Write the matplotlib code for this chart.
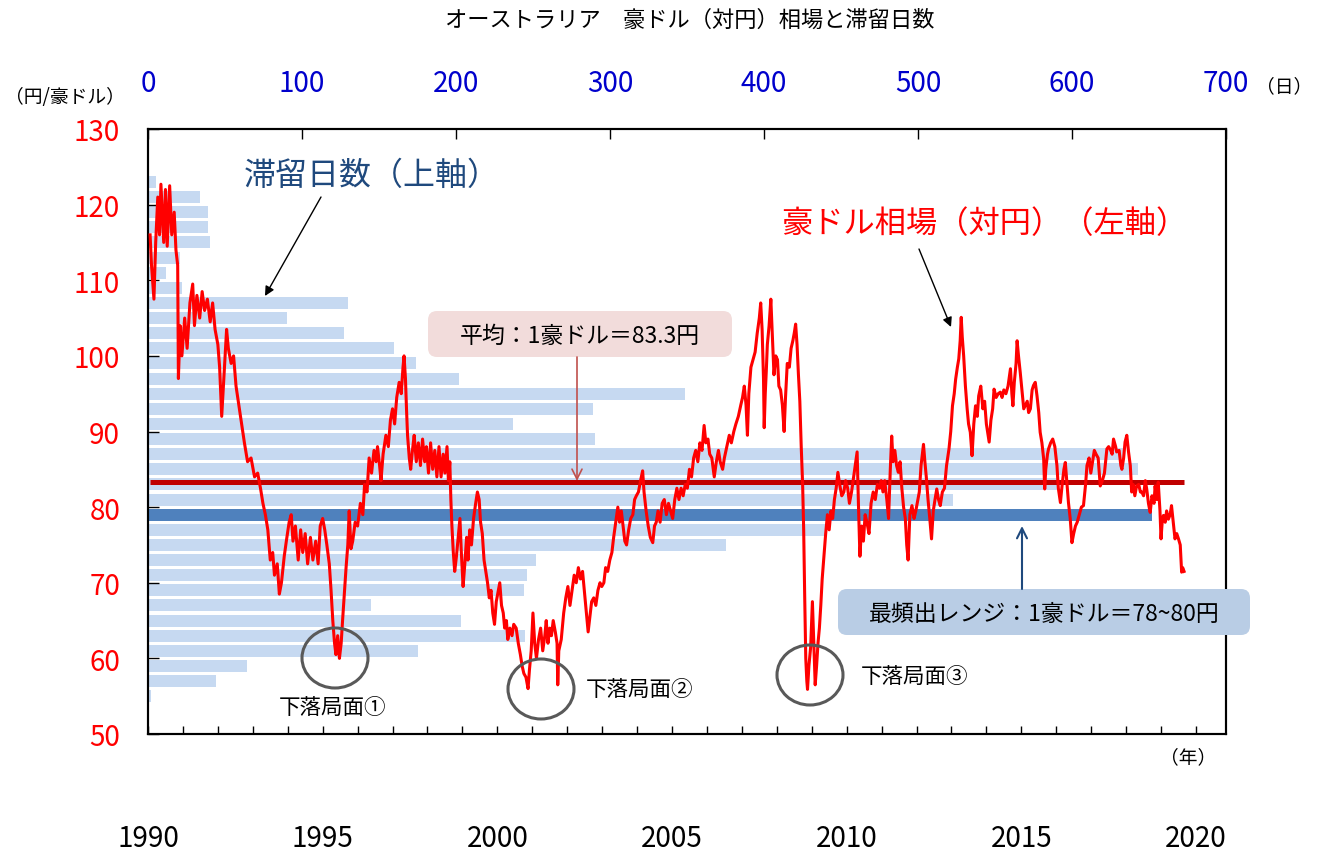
import numpy as np
import matplotlib
matplotlib.use("Agg")
import matplotlib.pyplot as plt
from matplotlib import patches

plt.rcParams['font.family'] = ['Noto Sans CJK JP', 'DejaVu Sans']

#------------------------------------------------------------------------------
# data
#------------------------------------------------------------------------------
# residence days per 2-yen band (band centre, yen)
band_mid = [55, 57, 59, 61, 63, 65, 67, 69, 71, 73, 75, 77, 79, 81, 83, 85, 87,
            89, 91, 93, 95, 97, 99, 101, 103, 105, 107, 109, 111, 113, 115, 117,
            119, 121, 123]
band_days = [2, 44, 64, 175, 245, 203, 145, 244, 246, 252, 375, 440, 652, 523,
             590, 643, 634, 290, 237, 289, 349, 202, 174, 160, 127, 90, 130, 22,
             12, 21, 40, 39, 39, 34, 5]
mode_band = 79        # 78~80 yen
mean_rate = 83.3

# AUD/JPY (decimal year, yen)
d90 = [1990.06, 1990.10, 1990.17, 1990.22, 1990.28, 1990.33, 1990.37, 1990.45, 1990.50, 1990.55, 1990.62, 1990.68, 1990.75, 1990.80, 1990.85, 1990.87, 1990.92, 1990.97]
v90 = [116, 112, 107.5, 115, 121, 116, 122.7, 115, 122, 114.5, 122.5, 116, 119, 114, 112, 97, 104, 100]
d91 = [1991.05, 1991.12, 1991.20, 1991.28, 1991.33, 1991.40, 1991.48, 1991.55, 1991.62, 1991.70, 1991.78, 1991.85, 1991.92]
v91 = [105, 101, 107, 109.5, 104, 108, 105, 108.5, 106, 107.5, 104.5, 107, 103.5]
d92 = [1992.00, 1992.05, 1992.11, 1992.17, 1992.25, 1992.30, 1992.38, 1992.45, 1992.52, 1992.60, 1992.68, 1992.76, 1992.85, 1992.95]
v92 = [101.5, 98.5, 92, 97, 103.5, 101, 99, 100, 96, 93.5, 91, 88.5, 86, 86.5]
d93 = [1993.05, 1993.14, 1993.22, 1993.29, 1993.36, 1993.43, 1993.50, 1993.57, 1993.62, 1993.70, 1993.76, 1993.82, 1993.90, 1993.96]
v93 = [84, 84.5, 82.5, 80.5, 79, 77, 73, 74, 71, 72.5, 68.5, 70, 73.5, 75.5]
d94 = [1994.04, 1994.10, 1994.15, 1994.22, 1994.30, 1994.37, 1994.43, 1994.50, 1994.57, 1994.65, 1994.72, 1994.80, 1994.87, 1994.93]
v94 = [78, 79, 75.5, 77.5, 73, 77, 74, 76.5, 72.5, 76, 73, 75.5, 72.5, 77.5]
d95 = [1995.00, 1995.06, 1995.12, 1995.19, 1995.24, 1995.29, 1995.34, 1995.38, 1995.43, 1995.48, 1995.53, 1995.57, 1995.62, 1995.67, 1995.72, 1995.76, 1995.81, 1995.86, 1995.93]
v95 = [78.5, 77, 75, 72.5, 69, 65, 62, 60.5, 63, 60, 62, 65, 68.5, 72, 75, 79.5, 74.5, 75.5, 78]
d96 = [1996.00, 1996.08, 1996.15, 1996.20, 1996.27, 1996.33, 1996.40, 1996.47, 1996.53, 1996.57, 1996.63, 1996.67, 1996.73, 1996.81, 1996.88, 1996.94]
v96 = [77.5, 80.5, 79, 83, 82, 86.5, 84.5, 87.5, 86, 88, 85.5, 83.5, 87, 89.5, 88, 91.5]
d97 = [1997.00, 1997.06, 1997.12, 1997.19, 1997.25, 1997.30, 1997.33, 1997.37, 1997.40, 1997.43, 1997.48, 1997.52, 1997.57, 1997.62, 1997.68, 1997.74, 1997.80, 1997.86, 1997.92, 1997.97]
v97 = [93, 91, 94.5, 96.5, 95, 98.5, 100, 97, 93, 89.5, 86.5, 85, 87.5, 89.5, 86, 88.5, 85.5, 89, 86, 88]
d98 = [1998.03, 1998.09, 1998.15, 1998.21, 1998.27, 1998.33, 1998.39, 1998.45, 1998.50, 1998.56, 1998.60, 1998.64, 1998.67, 1998.70, 1998.74, 1998.78, 1998.83, 1998.88, 1998.93, 1998.97]
v98 = [84.5, 88.5, 85, 87.5, 84, 88, 84, 87, 84.5, 88, 83.5, 86, 81, 77.5, 74, 71.5, 73.5, 76, 78.5, 74]
d99 = [1999.02, 1999.07, 1999.12, 1999.16, 1999.21, 1999.26, 1999.32, 1999.38, 1999.43, 1999.48, 1999.52, 1999.57, 1999.62, 1999.67, 1999.72, 1999.77, 1999.82, 1999.87, 1999.92, 1999.97]
v99 = [69.5, 72.5, 76, 73, 77, 75, 78.5, 80.5, 82, 81, 78, 76.5, 73, 71.5, 70, 68, 69, 66, 64.5, 67.5]
d00 = [2000.03, 2000.07, 2000.12, 2000.17, 2000.21, 2000.26, 2000.30, 2000.36, 2000.42, 2000.47, 2000.54, 2000.60, 2000.66, 2000.71, 2000.76, 2000.82, 2000.88, 2000.92, 2000.97]
v00 = [69, 70, 67, 66, 64, 65, 62.5, 64, 63, 64.5, 64, 62, 60.5, 59, 58, 57.5, 56, 58.5, 61]
d01 = [2001.02, 2001.07, 2001.12, 2001.18, 2001.24, 2001.30, 2001.36, 2001.40, 2001.45, 2001.50, 2001.55, 2001.60, 2001.66, 2001.71, 2001.73, 2001.76, 2001.83, 2001.90, 2001.96]
v01 = [66, 62, 60, 62.5, 64, 61, 63, 65, 62, 64, 63, 65, 63.5, 62, 56.5, 61, 62.5, 66, 68]
d02 = [2002.02, 2002.08, 2002.14, 2002.20, 2002.26, 2002.32, 2002.38, 2002.44, 2002.50, 2002.55, 2002.60, 2002.65, 2002.70, 2002.76, 2002.82, 2002.88, 2002.94, 2002.99]
v02 = [69.5, 67, 69, 71, 70, 72, 70.5, 71.5, 68.5, 66, 63.5, 65.5, 67.5, 68, 67, 69, 70, 69.5]
d03 = [2003.05, 2003.10, 2003.16, 2003.22, 2003.28, 2003.33, 2003.39, 2003.45, 2003.50, 2003.55, 2003.60, 2003.65, 2003.70, 2003.76, 2003.82, 2003.88, 2003.93, 2003.98]
v03 = [70, 72, 71.5, 73, 74, 76, 78, 80, 78, 79.5, 77.5, 75.5, 75, 77, 78.5, 79, 81, 81.5]
d04 = [2004.04, 2004.10, 2004.16, 2004.20, 2004.26, 2004.32, 2004.38, 2004.45, 2004.50, 2004.55, 2004.60, 2004.66, 2004.72, 2004.78, 2004.84, 2004.90, 2004.96]
v04 = [82, 83.5, 84.8, 82, 79.5, 77.5, 76, 75.3, 77.5, 78, 79.5, 78, 80.5, 81, 79, 80.5, 79.5]
d05 = [2005.02, 2005.08, 2005.14, 2005.20, 2005.26, 2005.32, 2005.38, 2005.44, 2005.50, 2005.56, 2005.62, 2005.68, 2005.74, 2005.80, 2005.86, 2005.92, 2005.97]
v05 = [78.5, 81, 82.5, 81, 82.5, 81.5, 83, 82.5, 85, 84, 86.5, 87.5, 86, 88.5, 87.5, 90.8, 88.5]
d06 = [2006.03, 2006.08, 2006.14, 2006.21, 2006.27, 2006.33, 2006.38, 2006.45, 2006.50, 2006.57, 2006.64, 2006.70, 2006.77, 2006.83, 2006.90, 2006.97]
v06 = [89, 87, 86.5, 84, 86, 87.5, 86, 85, 86.5, 88, 89.5, 88.5, 90, 91, 92, 93.5]
d07 = [2007.02, 2007.07, 2007.12, 2007.16, 2007.20, 2007.26, 2007.32, 2007.38, 2007.44, 2007.50, 2007.54, 2007.58, 2007.62, 2007.64, 2007.67, 2007.70, 2007.73, 2007.78, 2007.83, 2007.87, 2007.92, 2007.97]
v07 = [94.5, 96, 93.5, 89.5, 95, 98.5, 99.5, 100.5, 103, 105, 107, 103.5, 97, 90.5, 95, 98, 101.5, 104, 107.5, 103, 97.5, 100]
d08 = [2008.02, 2008.06, 2008.11, 2008.16, 2008.21, 2008.25, 2008.30, 2008.36, 2008.41, 2008.46, 2008.50, 2008.54, 2008.58, 2008.62, 2008.66, 2008.70, 2008.74, 2008.77, 2008.80, 2008.83, 2008.86, 2008.88, 2008.92, 2008.97]
v08 = [99.5, 96, 95.5, 93.5, 90, 94.5, 99, 98.5, 101, 102, 103, 104.2, 101.5, 97.5, 94, 88, 83, 77, 68, 60, 57, 55.9, 59, 61.5]
d09 = [2009.02, 2009.06, 2009.10, 2009.14, 2009.18, 2009.22, 2009.26, 2009.30, 2009.35, 2009.40, 2009.45, 2009.50, 2009.55, 2009.60, 2009.65, 2009.70, 2009.75, 2009.80, 2009.86, 2009.92, 2009.97]
v09 = [67.5, 62, 56.5, 59, 62, 64, 67, 70.5, 73.5, 76.5, 79, 77, 79.5, 78.5, 81, 82.5, 84.6, 83, 81.5, 82, 83.5]
d10 = [2010.03, 2010.08, 2010.14, 2010.20, 2010.26, 2010.30, 2010.34, 2010.38, 2010.43, 2010.48, 2010.53, 2010.58, 2010.64, 2010.70, 2010.76, 2010.82, 2010.88, 2010.94, 2010.99]
v10 = [82.5, 80.5, 82, 84, 86, 87.3, 80, 73.5, 77.5, 75.5, 79, 78, 76.5, 80.5, 82, 81, 83, 82.5, 83.5]
d11 = [2011.04, 2011.09, 2011.15, 2011.20, 2011.25, 2011.29, 2011.33, 2011.38, 2011.43, 2011.48, 2011.53, 2011.58, 2011.63, 2011.68, 2011.72, 2011.76, 2011.81, 2011.87, 2011.93, 2011.98]
v11 = [82, 83.5, 81, 78.5, 85, 89.4, 86, 87.5, 85.5, 84.6, 86, 82.5, 80, 78.5, 75, 73, 79, 80.2, 78.5, 79.5]
d12 = [2012.02, 2012.08, 2012.13, 2012.20, 2012.24, 2012.28, 2012.33, 2012.38, 2012.43, 2012.48, 2012.53, 2012.58, 2012.63, 2012.68, 2012.74, 2012.80, 2012.86, 2012.93, 2012.98]
v12 = [80.5, 82, 85.5, 88.3, 86, 84, 81, 78.5, 75.8, 79.5, 81, 82.4, 81, 80.2, 82, 82.5, 85.5, 87.7, 90]
d13 = [2013.03, 2013.08, 2013.12, 2013.17, 2013.21, 2013.25, 2013.28, 2013.31, 2013.35, 2013.40, 2013.45, 2013.49, 2013.54, 2013.59, 2013.64, 2013.69, 2013.74, 2013.78, 2013.84, 2013.90, 2013.95]
v13 = [93.4, 95, 96.9, 98.5, 99.6, 102, 105.1, 102.5, 100, 96, 93, 91, 89.9, 86.8, 91, 93.4, 92, 94.7, 96, 93, 94]
d14 = [2014.00, 2014.05, 2014.08, 2014.13, 2014.18, 2014.22, 2014.28, 2014.34, 2014.40, 2014.45, 2014.50, 2014.56, 2014.62, 2014.69, 2014.73, 2014.76, 2014.80, 2014.85, 2014.88, 2014.92, 2014.97]
v14 = [91, 89.5, 88.6, 91.5, 93, 95.6, 94.5, 95, 95.2, 94.5, 95.5, 95, 96, 98.3, 95, 93.4, 96.5, 99, 102, 100, 97.8]
d15 = [2015.03, 2015.07, 2015.12, 2015.17, 2015.21, 2015.26, 2015.31, 2015.35, 2015.40, 2015.45, 2015.50, 2015.54, 2015.59, 2015.64, 2015.67, 2015.70, 2015.75, 2015.78, 2015.84, 2015.90, 2015.96]
v15 = [95, 93, 93.5, 94, 92.5, 93, 95.5, 96.1, 96.5, 94.7, 92.5, 89.9, 88.5, 86.4, 82.4, 85, 87, 87.7, 88.5, 89, 88]
d16 = [2016.02, 2016.06, 2016.12, 2016.17, 2016.22, 2016.26, 2016.31, 2016.35, 2016.40, 2016.45, 2016.50, 2016.55, 2016.60, 2016.66, 2016.72, 2016.78, 2016.84, 2016.88, 2016.94, 2016.99]
v16 = [85.5, 82.5, 80.6, 83, 85, 85.9, 83, 80.6, 78.5, 75.3, 76.5, 77.5, 78, 79, 80, 80.2, 83, 85.5, 86.5, 84.5]
d17 = [2017.04, 2017.09, 2017.14, 2017.20, 2017.26, 2017.32, 2017.38, 2017.45, 2017.50, 2017.56, 2017.60, 2017.64, 2017.70, 2017.73, 2017.80, 2017.85, 2017.88, 2017.93, 2017.97]
v17 = [86, 87.5, 87, 86.5, 82.8, 83.5, 84.5, 87.7, 88, 87.5, 87, 89, 88, 87.3, 87.5, 85.5, 85, 86.5, 88.6]
d18 = [2018.02, 2018.07, 2018.12, 2018.16, 2018.20, 2018.25, 2018.30, 2018.36, 2018.41, 2018.45, 2018.50, 2018.55, 2018.59, 2018.64, 2018.69, 2018.74, 2018.80, 2018.83, 2018.88, 2018.92, 2018.97]
v18 = [89.5, 87.3, 85.5, 82, 83, 81.5, 82.8, 83, 82, 82, 81.5, 83.5, 82.4, 80.5, 79.3, 81.5, 80.5, 82.8, 81, 83.3, 79.5]
d19 = [2019.00, 2019.04, 2019.07, 2019.12, 2019.16, 2019.21, 2019.26, 2019.30, 2019.35, 2019.40, 2019.45, 2019.50, 2019.55, 2019.59, 2019.62, 2019.66]
v19 = [75.8, 78.5, 78.9, 78, 79.5, 78.4, 79, 80.2, 78, 75.8, 76.5, 75.8, 75, 71.4, 72, 71.5]

dates = np.array(d90 + d91 + d92 + d93 + d94 + d95 + d96 + d97 + d98 + d99 + d00 + d01 + d02 + d03 + d04
                 + d05 + d06 + d07 + d08 + d09 + d10 + d11 + d12 + d13 + d14 + d15 + d16 + d17 + d18 + d19)
rate = np.array(v90 + v91 + v92 + v93 + v94 + v95 + v96 + v97 + v98 + v99 + v00 + v01 + v02 + v03 + v04
                + v05 + v06 + v07 + v08 + v09 + v10 + v11 + v12 + v13 + v14 + v15 + v16 + v17 + v18 + v19)

year_ticks = list(range(1990, 2021))
year_labels = [str(y) if y % 5 == 0 else '' for y in year_ticks]
day_ticks = list(range(0, 701, 100))
yen_ticks = list(range(50, 131, 10))

#------------------------------------------------------------------------------
# figure
#------------------------------------------------------------------------------
W, H = 1318, 854
fig = plt.figure(figsize=(W / 100, H / 100), dpi=100)
fig.patch.set_facecolor('white')

ax = fig.add_axes([148 / W, 1 - 735 / H, (1226 - 148) / W, (735 - 130) / H])
ax2 = ax.twiny()   # year axis for the rate line

# bars: days spent in each band (top axis)
cols = ['#4F81BD' if b == mode_band else '#C6D9F1' for b in band_mid]
ax.barh(band_mid, band_days, height=1.6, color=cols, zorder=1)
ax.set_xlim(0, 700)
ax.set_ylim(50, 130)
ax.xaxis.tick_top()
ax.set_xticks(day_ticks)
ax.set_yticks(yen_ticks)
ax.tick_params(axis='x', direction='in', length=7, width=1, labelsize=20,
               labelcolor='#0000CC', pad=22)
ax.tick_params(axis='y', direction='in', length=8, width=1, labelsize=20,
               labelcolor='red', pad=20)

# line: AUD/JPY on the year axis (bottom)
ax2.plot(dates, rate, color='#FF0000', lw=2.2, zorder=3)
ax2.hlines(mean_rate, dates[0], dates[-1], color='#C00000', lw=3.6, zorder=2)
ax2.set_xlim(1990.06, 2020.86)
ax2.xaxis.tick_bottom()
ax2.set_xticks(year_ticks)
ax2.set_xticklabels(year_labels)
ax2.tick_params(axis='x', direction='in', length=6, width=1, labelsize=20, pad=64)

for a in (ax, ax2):
    for s in a.spines.values():
        s.set_linewidth(1.5)
        s.set_color('black')

#------------------------------------------------------------------------------
# annotations, in pixel space
#------------------------------------------------------------------------------
ov = fig.add_axes([0, 0, 1, 1])
ov.set_xlim(0, W)
ov.set_ylim(H, 0)
ov.axis('off')
ov.patch.set_visible(False)

ov.text(690, 20, 'オーストラリア　豪ドル（対円）相場と滞留日数', fontsize=16, ha='center', va='center')
ov.text(65, 97, '（円/豪ドル）', fontsize=13.5, ha='center', va='center')
ov.text(1284, 87, '（日）', fontsize=13.5, ha='center', va='center')
ov.text(1188, 758, '（年）', fontsize=13.5, ha='center', va='center')

ov.text(372, 176, '滞留日数（上軸）', fontsize=23, color='#1F497D', ha='center', va='center')
ov.annotate('', xy=(265, 297), xytext=(321, 198),
            arrowprops=dict(arrowstyle='-|>', color='black', lw=1, shrinkA=0, shrinkB=0, mutation_scale=14))
ov.text(984, 224, '豪ドル相場（対円）（左軸）', fontsize=22.5, color='red', ha='center', va='center')
ov.annotate('', xy=(951, 328), xytext=(919, 250),
            arrowprops=dict(arrowstyle='-|>', color='black', lw=1, shrinkA=0, shrinkB=0, mutation_scale=14))

ov.add_patch(patches.FancyBboxPatch((428, 312), 304, 46, boxstyle='round,pad=0,rounding_size=9',
                                    fc='#F2DCDB', ec='none'))
ov.text(580, 336, '平均：1豪ドル＝83.3円', fontsize=16.5, ha='center', va='center')
ov.annotate('', xy=(577, 482), xytext=(577, 358),
            arrowprops=dict(arrowstyle='->', color='#C0504D', lw=1.2, shrinkA=0, shrinkB=0, mutation_scale=18))

ov.add_patch(patches.FancyBboxPatch((838, 590), 412, 46, boxstyle='round,pad=0,rounding_size=9',
                                    fc='#B9CDE5', ec='none'))
ov.text(1044, 614, '最頻出レンジ：1豪ドル＝78~80円', fontsize=16.5, ha='center', va='center')
ov.annotate('', xy=(1022, 527), xytext=(1022, 590),
            arrowprops=dict(arrowstyle='->', color='#1F497D', lw=1.5, shrinkA=0, shrinkB=0, mutation_scale=18))

# falling phases
for cx, cy in [(335, 659), (541, 690), (810, 676)]:
    ov.add_patch(patches.Ellipse((cx, cy), 66, 60, fill=False, ec='#595959', lw=2.2))
ov.text(333, 708, '下落局面①', fontsize=15.5, ha='center', va='center')
ov.text(640, 690, '下落局面②', fontsize=15.5, ha='center', va='center')
ov.text(915, 677, '下落局面③', fontsize=15.5, ha='center', va='center')

fig.savefig('out.png', dpi=100)
